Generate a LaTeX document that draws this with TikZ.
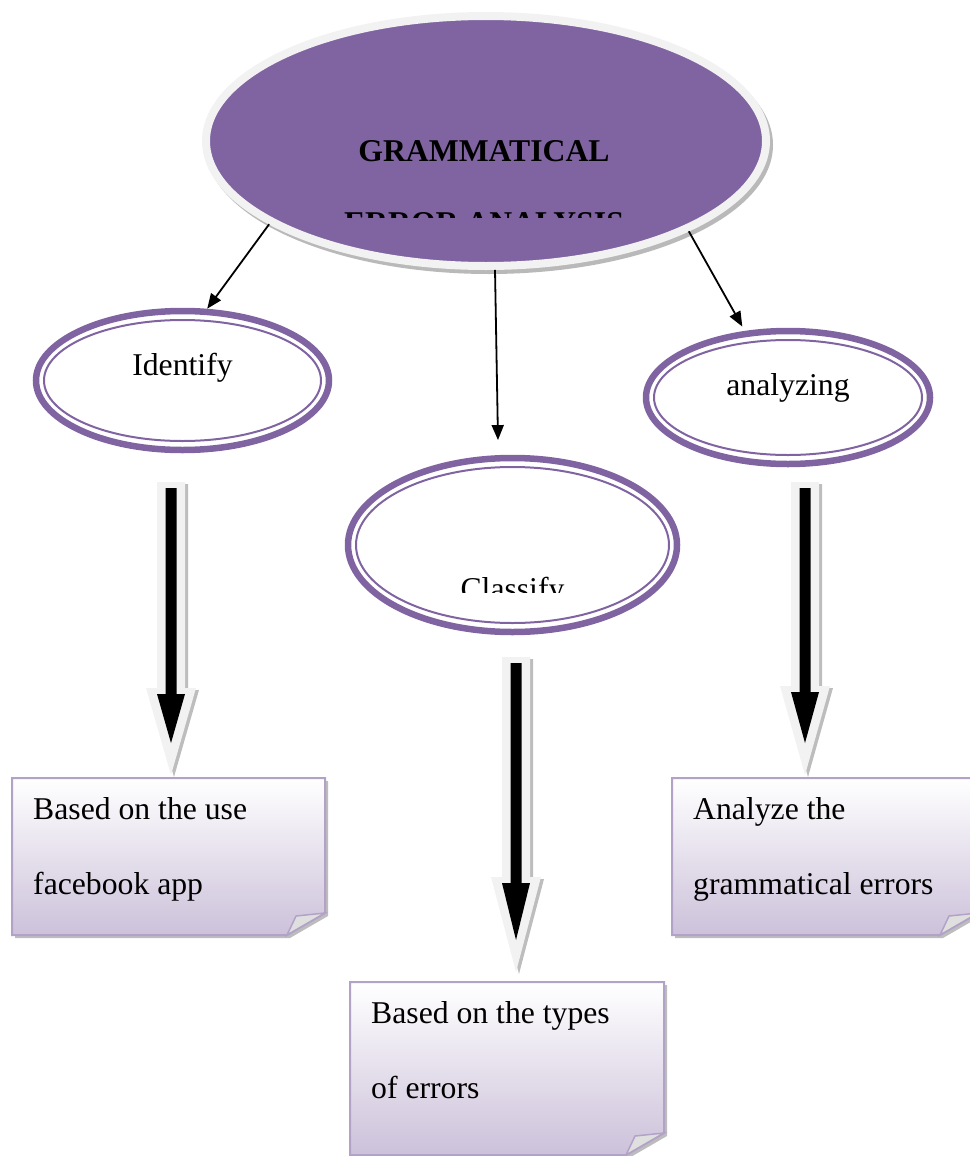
\documentclass[tikz,border=0pt]{standalone}
\usepackage{fontspec}
\setmainfont{Liberation Serif}
\usetikzlibrary{shapes.geometric,arrows.meta,backgrounds,calc}

\definecolor{vio}{HTML}{8064A2}
\definecolor{lavd}{HTML}{B3A2C7}
\definecolor{lavb}{HTML}{CCC1DA}
\definecolor{pale}{HTML}{F2F2F2}
\definecolor{shad}{HTML}{BDBDBD}

\tikzset{
  oval/.style={ellipse, draw=vio, line width=6.5pt, inner sep=0pt,
    font=\fontsize{31.7pt}{38pt}\selectfont},
  ring/.style={draw=vio, line width=2pt},
  link/.style={line width=1.8pt, -{Triangle[length=15pt,width=12pt]}},
  note/.style={anchor=north west, inner xsep=21pt, inner ysep=19.3pt, align=flush left,
    font=\fontsize{31.7pt}{75pt}\selectfont},
  notebox/.style={draw=lavd, line width=2pt, top color=white, bottom color=lavb},
  fold/.style={fill=gray!25, draw=lavd, line width=1.5pt},
}

\begin{document}
\begin{tikzpicture}[x=1pt,y=-1pt]
  \useasboundingbox (0,0) rectangle (969,1156);
  \clip (0,0) rectangle (969,1156);

  %% title oval
  \fill[gray!55] (489,145) ellipse (284 and 129);
  \node[ellipse, fill=vio, draw=pale, line width=8pt, minimum width=560pt,
    minimum height=250pt] (top) at (486,141) {};
  \begin{scope}
    \clip (200,0) rectangle (780,217);
    \node[anchor=base, align=center, font=\bfseries\fontsize{31.7pt}{72pt}\selectfont]
      (title) at (484,233) {GRAMMATICAL\\ERROR ANALYSIS};
  \end{scope}

  %% the three steps
  \node[oval, minimum width=293pt, minimum height=139pt, text height=22pt,
    text depth=33pt] (ident) at (182.5,380.5) {Identify};
  \node[oval, minimum width=284pt, minimum height=133pt, text height=22pt,
    text depth=27pt] (anal) at (788,397.5) {analyzing};
  \node[oval, minimum width=329pt, minimum height=174pt] (classify) at (512.5,545) {};
  \begin{scope}
    \clip (0,0) rectangle (969,592);
    \node[anchor=base, font=\fontsize{31.7pt}{38pt}\selectfont] (cls) at (512.5,599) {Classify};
  \end{scope}
  \foreach \n/\rx/\ry in {ident/138.5/60.5, anal/134/57.5, classify/156.5/78}
    \draw[ring] (\n.center) ellipse ({\rx} and {\ry});

  \draw[link] (top.201) -- (ident.71);
  \draw[link, shorten >=15pt] (top.274) -- (classify.99);
  \draw[link, shorten >=5pt] (top.336) -- (anal.123);

  %% block arrows
  \foreach \cx/\yt/\yh/\yp in {171/482/688/775, 516/657/877/972, 805/482/686/775}{
    \begin{scope}[shift={(\cx,0)}]
      \fill[shad, xshift=3pt, yshift=-2pt] (-14,\yt) -- (14,\yt) -- (14,\yh) -- (25,\yh)
        -- (0,\yp) -- (-25,\yh) -- (-14,\yh) -- cycle;
      \fill[pale] (-14,\yt) -- (14,\yt) -- (14,\yh) -- (25,\yh)
        -- (0,\yp) -- (-25,\yh) -- (-14,\yh) -- cycle;
      \fill[black] (-5.5,\yt+6) -- (5.5,\yt+6) -- (5.5,\yh+6) -- (14,\yh+6)
        -- (0,\yp-32) -- (-14,\yh+6) -- (-5.5,\yh+6) -- cycle;
    \end{scope}
  }

  %% notes
  \node[note, text width=271pt] (use) at (12,778) {Based on the use\\facebook app};
  \node[note, text width=272pt] (types) at (350,982) {Based on the types\\of errors};
  \node[note, text width=264pt] (gram) at (672,778) {Analyze the\\grammatical errors};

  \begin{scope}[on background layer]
    \foreach \n/\w/\h in {use/313/157, types/314/173, gram/306/157}{
      \fill[shad] ($(\n.north west)+(3,3)$) -- +(\w,0) -- +(\w,\h-22) -- +(\w-38,\h)
        -- +(0,\h) -- cycle;
      \path[notebox] (\n.north west) -- +(\w,0) -- +(\w,\h-22) -- +(\w-38,\h)
        -- +(0,\h) -- cycle;
      \filldraw[fold] ($(\n.north west)+(\w-38,\h)$) -- +(38,-22) -- +(9,-19) -- cycle;
    }
  \end{scope}
\end{tikzpicture}
\end{document}
